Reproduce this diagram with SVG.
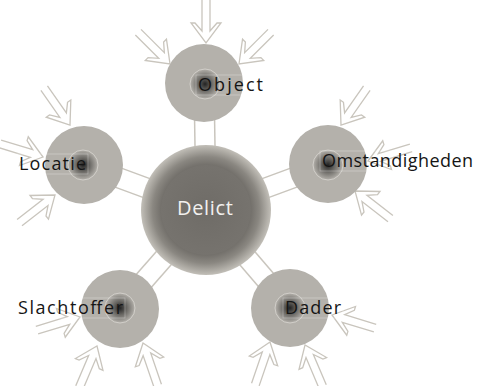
<svg xmlns="http://www.w3.org/2000/svg" width="486" height="386" viewBox="0 0 486 386">
<defs>
<radialGradient id="gCenter" cx="0.5" cy="0.5" r="0.5">
<stop offset="0" stop-color="#6d6a65"/>
<stop offset="0.68" stop-color="#716e69"/>
<stop offset="0.82" stop-color="#8a8781"/>
<stop offset="1" stop-color="#c2bfb8"/>
</radialGradient>
<radialGradient id="gInner" cx="0.5" cy="0.5" r="0.5">
<stop offset="0" stop-color="#6f6c67"/>
<stop offset="1" stop-color="#76736e"/>
</radialGradient>
<radialGradient id="gDot" cx="0.5" cy="0.5" r="0.5">
<stop offset="0" stop-color="#222222"/>
<stop offset="0.45" stop-color="#6a6864"/>
<stop offset="1" stop-color="#b4b1ab"/>
</radialGradient>
<path id="arr" d="M-4,-45 V-12 L-11,-20 H-15 L0,0 L15,-20 H11 L4,-12 V-45"/>
</defs>
<style>
.conn{stroke:#c9c5bd;stroke-width:1.5;fill:none}
.arrow{stroke:#c9c5bd;stroke-width:1.3;fill:none;stroke-linejoin:miter}
.outer{fill:#b4b1ab}
.dot{fill:url(#gDot);stroke:#d8d6d1;stroke-width:0.8}
.lbl{font-family:"Open Sans","DejaVu Sans",sans-serif;font-size:18px;fill:#151515}
.box{fill:none;stroke:#ffffff;stroke-opacity:0.35;stroke-width:0.8}
</style>
<g id="connectors">
<line class="conn" x1="214" y1="83" x2="216" y2="210"/>
<line class="conn" x1="194" y1="83" x2="196" y2="210"/>
<line class="conn" x1="87.5" y1="155.6" x2="209.5" y2="200.6"/>
<line class="conn" x1="80.5" y1="174.4" x2="202.5" y2="219.4"/>
<line class="conn" x1="331.5" y1="174.4" x2="209.5" y2="219.4"/>
<line class="conn" x1="324.5" y1="155.6" x2="202.5" y2="200.6"/>
<line class="conn" x1="297.6" y1="301.5" x2="213.6" y2="203.5"/>
<line class="conn" x1="282.4" y1="314.5" x2="198.4" y2="216.5"/>
<line class="conn" x1="127.5" y1="314.6" x2="213.5" y2="216.6"/>
<line class="conn" x1="112.5" y1="301.4" x2="198.5" y2="203.4"/>
</g>
<g id="arrows">
<use href="#arr" class="arrow" transform="translate(206,43)"/>
<use href="#arr" class="arrow" transform="translate(170,64) rotate(-45)"/>
<use href="#arr" class="arrow" transform="translate(239,64) rotate(45)"/>
<use href="#arr" class="arrow" transform="translate(341,125) rotate(35)"/>
<use href="#arr" class="arrow" transform="translate(368,161) rotate(73)"/>
<use href="#arr" class="arrow" transform="translate(355,191) rotate(128)"/>
<use href="#arr" class="arrow" transform="translate(70,125) rotate(-35)"/>
<use href="#arr" class="arrow" transform="translate(43,157) rotate(-73)"/>
<use href="#arr" class="arrow" transform="translate(55,195) rotate(-128)"/>
<use href="#arr" class="arrow" transform="translate(80,317) rotate(-107)"/>
<use href="#arr" class="arrow" transform="translate(97,346) rotate(-157)"/>
<use href="#arr" class="arrow" transform="translate(143,343) rotate(161)"/>
<use href="#arr" class="arrow" transform="translate(332,315) rotate(107)"/>
<use href="#arr" class="arrow" transform="translate(270,342) rotate(-161)"/>
<use href="#arr" class="arrow" transform="translate(305,345) rotate(157)"/>
</g>
<g id="delict">
<circle cx="206" cy="210" r="65" fill="url(#gCenter)"/>
<circle cx="206" cy="210" r="45" fill="url(#gInner)"/>
<text x="177" y="215" textLength="56" lengthAdjust="spacing" style="font-family:'Open Sans','DejaVu Sans',sans-serif;font-size:20px;fill:#f2f1ef">Delict</text>
</g>
<g id="object">
<circle class="outer" cx="204" cy="83" r="39"/>
<circle class="dot" cx="205" cy="84" r="15"/>
<rect class="box" x="196" y="75" width="69" height="20"/>
<text class="lbl" x="198" y="91" textLength="65" lengthAdjust="spacing">Object</text>
</g>
<g id="omstandigheden">
<circle class="outer" cx="328" cy="164" r="39"/>
<circle class="dot" cx="328" cy="165" r="15"/>
<rect class="box" x="320" y="151" width="155" height="20"/>
<text class="lbl" x="322" y="167" textLength="151" lengthAdjust="spacing">Omstandigheden</text>
</g>
<g id="locatie">
<circle class="outer" cx="84" cy="165" r="39"/>
<circle class="dot" cx="83" cy="165" r="15"/>
<rect class="box" x="17" y="154" width="71" height="20"/>
<text class="lbl" x="19" y="170" textLength="67" lengthAdjust="spacing">Locatie</text>
</g>
<g id="slachtoffer">
<circle class="outer" cx="120" cy="309" r="39"/>
<circle class="dot" cx="120" cy="308" r="15"/>
<rect class="box" x="16" y="298" width="109" height="20"/>
<text class="lbl" x="18" y="314" textLength="105" lengthAdjust="spacing">Slachtoffer</text>
</g>
<g id="dader">
<circle class="outer" cx="290" cy="308" r="39"/>
<circle class="dot" cx="290" cy="308" r="15"/>
<rect class="box" x="283" y="298" width="60" height="20"/>
<text class="lbl" x="285" y="314" textLength="56" lengthAdjust="spacing">Dader</text>
</g>
</svg>
